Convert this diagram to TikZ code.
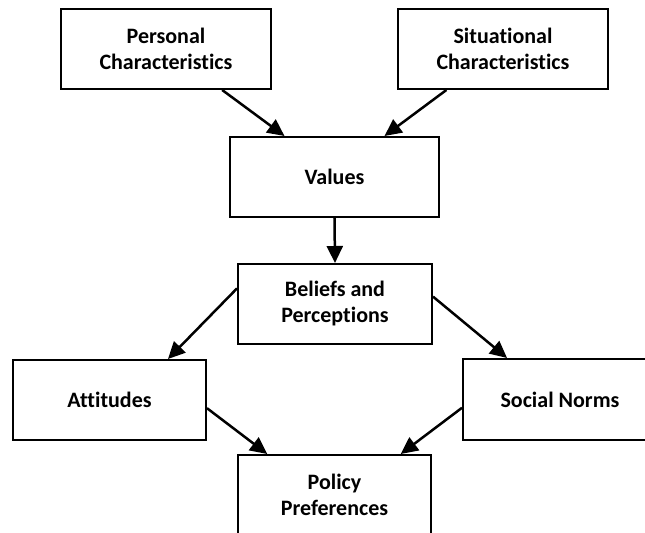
\documentclass[tikz,border=0pt]{standalone}
\usepackage{fontspec}
\setmainfont{Carlito}[Ligatures=NoCommon]
\usetikzlibrary{arrows.meta,calc}
\begin{document}
\begin{tikzpicture}[x=0.5pt,y=-0.5pt,
  box/.style={draw, line width=1pt, align=center, inner sep=0pt,
    font=\bfseries\fontsize{11}{13}\selectfont},
  arr/.style={-{Triangle[length=8.5pt,width=8pt]}, line width=1.25pt}]
\fill[white] (0,0) rectangle (645,533);
\clip (0,0) rectangle (645,533);
\node[box, minimum width=105pt, minimum height=40pt] (P) at (166,49) {Personal\\Characteristics};
\node[box, minimum width=105pt, minimum height=40pt] (S) at (503,49) {Situational\\Characteristics};
\node[box, minimum width=104.5pt, minimum height=40pt] (V) at (334.5,177) {Values};
\node[box, minimum width=97pt, minimum height=40pt] (B) at (335,304) {Beliefs and\\Perceptions};
\node[box, minimum width=96.5pt, minimum height=40pt] (A) at (109.5,400) {Attitudes};
\node[box, minimum width=97pt, minimum height=40.5pt] (N) at (560,399.5) {Social Norms};
\node[box, minimum width=96.5pt, minimum height=40pt] (Q) at (334.5,495) {Policy\\Preferences};
\draw[arr] ($(P.south)!0.53!(P.south east)$) -- ($(V.north west)!0.263!(V.north east)$);
\draw[arr] ($(S.south west)!0.233!(S.south east)$) -- ($(V.north west)!0.737!(V.north east)$);
\draw[arr] (V.south) -- (B.north);
\draw[arr] ($(B.north west)!0.31!(B.south west)$) -- ($(A.north west)!0.8!(A.north east)$);
\draw[arr] ($(B.north east)!0.41!(B.south east)$) -- ($(N.north west)!0.23!(N.north east)$);
\draw[arr] ($(A.north east)!0.6!(A.south east)$) -- ($(Q.north west)!0.155!(Q.north east)$);
\draw[arr] ($(N.north west)!0.6!(N.south west)$) -- ($(Q.north west)!0.84!(Q.north east)$);
\end{tikzpicture}
\end{document}
